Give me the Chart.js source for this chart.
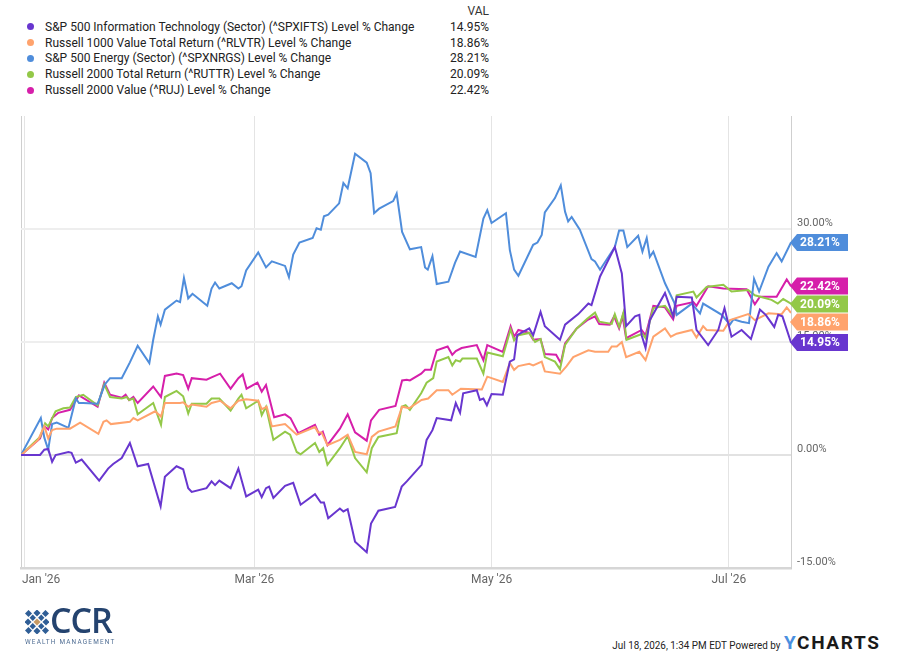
<!DOCTYPE html>
<html><head><meta charset="utf-8">
<script src="https://cdn.jsdelivr.net/npm/chart.js@4.4.1/dist/chart.umd.min.js"></script>
<style>
html,body{margin:0;padding:0;background:#fff;width:900px;height:665px;overflow:hidden;font-family:Roboto,'Noto Sans',sans-serif;}
#legend{position:absolute;left:0;top:0;width:520px;height:100px;}
.hdr{position:absolute;left:440px;width:49px;text-align:right;top:3px;font-size:12px;color:#333;line-height:16px;}
.row{position:absolute;left:0;width:520px;height:16px;font-size:12px;color:#222;line-height:16px;}
.dot{position:absolute;left:26.5px;top:4.5px;width:7px;height:7px;border-radius:50%;}
.name{position:absolute;left:45px;top:0;white-space:nowrap;}
.val{position:absolute;left:420px;top:0;width:69px;text-align:right;}
#wrap{position:absolute;left:0;top:100px;width:900px;height:500px;}
#stamp{position:absolute;right:120px;top:638px;font-size:11.5px;color:#222;white-space:nowrap;transform:scaleX(0.86);transform-origin:right center;line-height:14px;}
#ych{position:absolute;left:784px;top:633px;font-size:19px;font-weight:700;letter-spacing:1.6px;line-height:20px;color:#1a1a1a;white-space:nowrap;}
#ych .y{color:#4a8fe0;}
#ccr{position:absolute;left:25px;top:604px;width:95px;height:46px;}
#ccr .big{position:absolute;left:25px;top:-3px;font-family:'Open Sans',sans-serif;font-size:34px;font-weight:600;color:#24436f;line-height:38px;letter-spacing:-1px;}
#ccr .small{position:absolute;left:0;top:34px;font-size:6.4px;color:#4f6d93;letter-spacing:1.2px;white-space:nowrap;line-height:8px;}
#ccr svg{position:absolute;left:0;top:6px;}
</style></head>
<body>
<div id="legend"><div class="hdr">VAL</div></div>
<div id="wrap"><canvas id="c" width="900" height="500"></canvas></div>
<div id="ccr">
<svg width="24" height="24" viewBox="0 0 24 24">
<g fill="#2f5e96">
<rect x="1" y="1" width="5" height="5" transform="rotate(45 3.5 3.5)"/>
<rect x="18" y="1" width="5" height="5" transform="rotate(45 20.5 3.5)"/>
<rect x="1" y="18" width="5" height="5" transform="rotate(45 3.5 20.5)"/>
<rect x="18" y="18" width="5" height="5" transform="rotate(45 20.5 20.5)"/>
<rect x="5.5" y="5.5" width="4.5" height="4.5" transform="rotate(45 7.75 7.75)"/>
<rect x="14" y="5.5" width="4.5" height="4.5" transform="rotate(45 16.25 7.75)"/>
<rect x="5.5" y="14" width="4.5" height="4.5" transform="rotate(45 7.75 16.25)"/>
<rect x="14" y="14" width="4.5" height="4.5" transform="rotate(45 16.25 16.25)"/>
<rect x="9.5" y="0.5" width="5" height="5" transform="rotate(45 12 3)"/>
<rect x="9.5" y="18.5" width="5" height="5" transform="rotate(45 12 21)"/>
<rect x="0.5" y="9.5" width="5" height="5" transform="rotate(45 3 12)"/>
<rect x="18.5" y="9.5" width="5" height="5" transform="rotate(45 21 12)"/>
</g>
<rect x="9.5" y="9.5" width="5" height="5" fill="#c79a63" transform="rotate(45 12 12)"/>
</svg>
<div class="big">CCR</div>
<div class="small">WEALTH MANAGEMENT</div>
</div>
<div id="stamp">Jul 18, 2026, 1:34 PM EDT Powered by</div>
<div id="ych"><span class="y">Y</span>CHARTS</div>
<script>
// ---- data (x = calendar days since Dec 31, 2025; y = level % change) ----
const seriesNames = [
  "S&P 500 Information Technology (Sector) (^SPXIFTS) Level % Change",
  "Russell 1000 Value Total Return (^RLVTR) Level % Change",
  "S&P 500 Energy (Sector) (^SPXNRGS) Level % Change",
  "Russell 2000 Total Return (^RUTTR) Level % Change",
  "Russell 2000 Value (^RUJ) Level % Change"
];
const lastVals = [14.95, 18.86, 28.21, 20.09, 22.42];

const itDays = [0,4.9,6.0,7.0,8.0,8.9,12.2,13.0,14.1,15.6,20.1,22.4,23.7,25.9,28.0,30.0,32.7,35.9,37.0,40.0,41.7,43.0,43.9,47.7,49.0,49.9,51.0,53.9,55.9,57.9,61.0,61.9,63.0,63.8,64.9,67.9,70.0,71.9,75.6,77.1,77.9,79.0,82.0,82.9,84.0,85.9,88.9,90.0,91.9,96.2,97.9,99.2,103.0,104.3,105.8,106.9,110.6,111.8,112.9,113.7,117.2,118.0,118.9,119.8,121.0,123.9,125.7,126.8,127.6,130.7,131.7,133.6,134.7,138.6,139.9,143.3,145.9,146.7,148.9,152.7,154.5,155.6,157.9,159.0,159.6,160.6,161.7,165.6,167.7,168.6,172.5,173.7,176.7,179.3,180.9,182.7,185.3,187.7,190.0,191.5,193.7,194.7,195.8,198];
const itVals = [0,0,0.7,0.8,-0.9,0,0.4,0.3,-1.0,-0.6,-3.4,-1.8,-1.2,-0.4,1.6,-1.5,-1.2,-6.8,-2.9,-1.5,-1.9,-4.4,-4.9,-4.4,-3.5,-4.0,-3.4,-4.4,-1.8,-5.5,-4.6,-5.6,-4.4,-4.2,-5.7,-4.1,-3.7,-6.6,-5.2,-6.3,-6.3,-8.4,-7.1,-7.5,-7.2,-11.5,-12.9,-9.1,-7.4,-6.9,-4.2,-3.5,-1.3,2.0,3.3,4.9,4.6,6.9,5.6,8.2,8.6,7.3,7.5,6.6,8.1,8.0,12.4,12.7,15.9,16.8,15.9,19.0,17.1,15.3,17.3,18.7,20.1,19.9,23.7,27.6,24.1,17.1,18.4,18.6,15.9,14.2,17.9,21.5,18.4,21.0,20.9,16.6,14.6,16.6,19.5,15.7,16.6,15.4,19.3,18.6,17.0,18.6,18.4,14.95];

const rlvDays = [0,4.4,6.0,7.0,8.0,9.2,12.6,15.2,19.9,21.2,22.0,23.1,28.0,28.9,30.0,34.5,36.0,37.0,40.9,41.7,43.0,43.9,47.7,49.0,51.2,53.9,55.9,57.9,61.0,61.9,63.2,64.5,67.9,70.9,75.6,76.4,77.3,78.8,82.0,84.0,85.9,88.9,90.2,91.9,96.3,98.0,99.8,103.0,104.7,106.9,109.9,110.9,113.1,118.5,119.9,123.9,125.7,126.8,127.9,130.7,131.7,133.9,134.7,138.6,140.3,142.0,145.9,147.6,151.0,151.9,153.2,154.5,155.6,159.0,160.6,162.6,165.6,167.1,168.6,172.5,173.7,175.4,176.3,180.6,182.3,187.0,188.7,192.2,195.6,196.9,198];
const rlvVals = [0,2.0,3.8,2.2,3.3,3.5,3.5,4.3,2.8,4.4,4.6,4.1,4.4,4.9,4.6,5.8,5.1,6.9,6.9,7.0,6.4,6.7,6.4,6.9,7.2,6.2,7.2,7.4,7.2,6.1,6.4,3.8,4.1,2.7,3.7,3.0,3.0,1.3,2.0,2.7,0.4,0.1,2.4,3.1,3.8,6.4,6.2,7.3,7.5,8.6,8.6,8.0,8.8,8.7,10.4,9.7,12.2,11.3,11.8,12.1,11.9,12.4,11.1,10.8,11.8,13.0,13.9,13.7,13.7,14.4,14.4,15.0,13.0,13.7,12.6,15.7,16.8,15.7,16.1,16.6,15.6,17.1,16.6,16.5,17.9,18.7,17.9,18.8,18.7,19.6,18.86];

const enDays = [0,5.1,6.0,7.0,8.0,9.2,12.2,14.1,14.9,16.0,19.7,21.6,22.9,25.9,28.0,30.0,33.0,34.0,35.2,35.9,37.0,40.0,40.9,41.9,43.0,44.1,47.9,49.0,49.9,51.0,54.2,55.9,56.7,57.9,61.0,63.0,64.5,67.9,68.9,70.0,71.6,75.0,76.0,77.1,77.9,79.0,81.8,82.9,84.0,85.9,88.9,89.9,90.8,92.1,95.7,96.6,98.0,100.0,102.9,103.9,104.6,105.8,106.9,109.9,111.6,112.9,116.9,118.9,119.9,121.0,124.7,125.7,126.8,127.9,131.7,132.8,133.9,134.7,137.3,138.8,139.9,140.7,141.6,143.7,146.7,147.6,148.9,152.7,153.8,154.9,155.9,158.7,159.8,160.9,161.7,162.6,165.6,168.0,168.6,172.5,174.6,175.4,180.2,182.3,183.2,185.3,187.2,188.5,189.8,192.2,194.3,195.6,198];
const enVals = [0,4.9,2.3,0.7,4.1,4.3,3.6,7.5,6.9,6.9,6.8,9.4,10.2,10.2,12.3,14.5,12.2,15.3,18.4,17.3,19.3,20.5,20.3,23.5,20.8,21.4,19.8,22.1,22.9,22.1,22.8,22.1,22.4,24.5,26.9,24.9,25.7,25.1,23.6,26.6,28.2,28.8,30.1,29.9,31.7,31.9,33.4,36.1,35.4,40.0,38.8,37.4,32.1,32.7,33.7,34.7,29.6,27.3,27.6,24.9,24.6,26.4,22.7,23.0,25.5,27.0,26.3,31.4,32.5,30.8,32.1,27.2,24.6,23.8,27.9,28.2,29.2,32.2,34.1,35.8,32.3,31.0,31.6,29.9,26.0,25.7,24.6,27.6,29.8,29.8,27.6,29.1,27.0,28.8,26.3,27.0,22.8,20.2,18.6,20.1,18.8,20.1,18.6,17.3,18.0,17.7,17.5,23.4,21.7,25.0,26.8,25.7,28.21];

const rutDays = [0,4.9,6.2,7.0,8.9,10.9,12.6,14.1,16.0,19.7,21.4,22.9,25.9,27.2,27.8,28.9,30.0,34.0,36.0,37.0,40.0,41.7,43.0,43.9,47.7,49.0,51.0,53.9,55.9,56.7,57.9,61.0,61.9,63.0,64.9,67.9,69.2,70.9,71.9,75.6,76.7,77.7,78.8,82.0,84.0,85.9,88.9,90.2,91.9,96.6,97.9,98.9,100.0,102.9,104.3,106.0,106.9,109.9,110.9,111.8,112.9,113.5,117.2,118.9,119.9,123.9,125.9,126.8,127.9,130.7,132.2,133.6,134.7,137.3,138.6,139.9,142.9,145.6,147.6,148.7,151.9,152.7,153.8,154.9,155.7,159.8,160.6,162.6,165.6,167.7,168.6,172.9,173.7,176.3,180.6,182.7,187.0,188.7,193.0,194.6,196.0,198];
const rutVals = [0,2.4,4.2,3.8,5.8,6.2,6.3,7.7,8.0,6.6,9.4,7.7,7.5,7.7,7.3,7.5,5.4,6.9,4.0,7.7,8.5,7.8,5.5,6.8,6.8,7.5,7.5,5.9,7.5,8.0,6.2,7.2,5.3,6.4,2.0,3.1,2.7,0.4,0.1,1.6,0.4,0.9,-1.3,0.9,2.5,-0.4,-2.3,0.9,2.4,2.9,6.4,6.6,6.0,8.2,9.6,10.2,12.4,13.0,11.9,12.6,12.4,12.8,12.8,10.8,13.6,13.1,16.7,15.2,15.9,16.2,15.0,15.4,13.0,12.4,11.4,14.6,16.8,18.1,18.9,17.7,17.4,18.7,17.0,18.9,15.3,16.1,15.5,19.5,19.8,18.4,21.2,21.7,20.9,22.3,22.6,21.7,21.9,21.2,20.6,20.1,20.7,20.09];

const rujDays = [0,4.9,6.0,7.0,8.0,9.6,12.6,14.9,19.7,21.4,22.9,25.9,26.9,27.8,28.9,30.0,34.0,36.0,37.0,40.0,41.7,43.0,43.9,47.7,49.0,51.2,53.9,55.9,57.0,58.0,60.8,61.9,63.0,65.1,67.9,69.3,71.3,75.6,76.7,77.6,78.8,82.0,84.0,85.9,88.9,90.0,92.1,96.3,98.0,99.2,100.0,102.9,103.9,105.4,106.9,109.7,110.9,111.8,113.3,117.2,118.9,119.9,123.9,125.9,126.8,127.9,130.7,131.7,133.6,134.7,137.6,138.8,139.9,142.9,145.6,147.6,148.7,151.4,152.5,153.8,154.7,155.6,159.6,160.6,162.6,165.6,167.7,168.6,172.9,173.7,176.7,180.6,186.6,188.7,190.0,194.3,196.9,198];
const rujVals = [0,2.2,3.8,3.4,4.9,5.6,6.0,7.9,6.4,9.6,8.0,7.6,8.0,7.3,7.7,6.9,9.1,7.7,10.5,10.8,10.6,8.8,10.2,10.0,10.3,10.8,8.8,10.2,10.7,8.8,9.6,8.4,9.3,5.0,5.4,4.9,2.9,4.0,2.7,3.1,1.3,3.5,5.4,3.0,1.9,4.6,6.0,6.5,9.9,10.0,9.9,10.8,11.3,11.3,13.9,14.4,13.3,13.8,14.2,14.6,12.6,14.6,13.7,17.1,15.7,16.6,16.2,15.3,15.4,13.4,13.3,12.2,14.8,16.8,17.9,18.4,17.4,17.3,18.4,16.8,18.4,15.5,16.6,15.9,19.8,19.6,18.0,19.8,20.3,19.8,22.4,22.1,22.0,20.0,21.0,21.0,23.3,22.42];

const monthTicks = [1, 60, 121, 182];
const monthLabels = ["Jan '26", "Mar '26", "May '26", "Jul '26"];
const yTicks = [-15, 0, 15, 30, 45];

// ---- styles ----
const colors = ['#6836CF', '#FFA36D', '#4F8DDB', '#93C848', '#D61FAA'];
const allDays = [itDays, rlvDays, enDays, rutDays, rujDays];
const allVals = [itVals, rlvVals, enVals, rutVals, rujVals];

// legend
const lg = document.getElementById('legend');
const rowTops = [18.7, 34.7, 50.3, 66, 82];
seriesNames.forEach((n, i) => {
  const r = document.createElement('div');
  r.className = 'row'; r.style.top = rowTops[i] + 'px';
  r.innerHTML = '<div class="dot" style="background:' + colors[i] + '"></div><div class="name"></div><div class="val"></div>';
  r.querySelector('.name').textContent = n;
  r.querySelector('.val').textContent = lastVals[i].toFixed(2) + '%';
  lg.appendChild(r);
});

const overlay = {
  id: 'overlay',
  afterDraw(chart) {
    const {ctx, chartArea, scales: {x, y}} = chart;
    ctx.save();
    ctx.font = '12px Roboto';
    ctx.fillStyle = '#666';
    ctx.textBaseline = 'middle';
    monthTicks.forEach((d, i) => {
      const px = x.getPixelForValue(d);
      ctx.textAlign = i === 0 ? 'left' : 'center';
      ctx.fillText(monthLabels[i], i === 0 ? px - 3 : px, chartArea.bottom + 12);
    });
    const items = lastVals.map((v, i) => ({v, c: colors[i], y: y.getPixelForValue(v)})).sort((a, b) => a.y - b.y);
    for (let i = 1; i < items.length; i++) if (items[i].y < items[i - 1].y + 18) items[i].y = items[i - 1].y + 18;
    const tip = chartArea.right - 1, bx = tip + 7, ex = tip + 58, h = 8.5;
    items.forEach(it => {
      ctx.beginPath();
      ctx.moveTo(tip, it.y); ctx.lineTo(bx, it.y - h); ctx.lineTo(ex, it.y - h);
      ctx.lineTo(ex, it.y + h); ctx.lineTo(bx, it.y + h); ctx.closePath();
      ctx.fillStyle = it.c; ctx.fill();
      ctx.fillStyle = '#fff'; ctx.font = 'bold 12px Roboto'; ctx.textAlign = 'left';
      ctx.fillText(it.v.toFixed(2) + '%', bx + 3, it.y + 0.5);
    });
    ctx.restore();
  }
};

new Chart(document.getElementById('c'), {
  type: 'line',
  data: {
    datasets: seriesNames.map((n, i) => ({
      label: n,
      data: allDays[i].map((d, k) => ({x: d, y: allVals[i][k]})),
      borderColor: colors[i], backgroundColor: colors[i],
      borderWidth: 2, pointRadius: 0, tension: 0, fill: false
    }))
  },
  options: {
    responsive: false, animation: false, devicePixelRatio: 1,
    layout: {padding: {left: 21, top: 16, right: 0, bottom: 0}},
    plugins: {legend: {display: false}, tooltip: {enabled: false}},
    scales: {
      x: {
        type: 'linear', min: 0, max: 198,
        afterBuildTicks: s => { s.ticks = [0].concat(monthTicks).map(v => ({value: v})); },
        afterFit: s => { s.height = 32; },
        ticks: {display: false},
        grid: {drawTicks: false, lineWidth: 1, color: c => (c.tick && c.tick.value === 0) ? '#cfcfcf' : '#e4e4e4'},
        border: {display: true, color: '#d6d6d6', width: 2.5}
      },
      y: {
        position: 'right', min: -15, max: 45,
        afterBuildTicks: s => { s.ticks = yTicks.map(v => ({value: v})); },
        afterFit: s => { s.width = 109; },
        ticks: {
          callback: v => v === 45 ? '' : v.toFixed(2) + '%',
          color: '#666', font: {family: 'Roboto', size: 11}, padding: 6, labelOffset: -6
        },
        grid: {drawTicks: false, lineWidth: 2, color: c => (c.tick && c.tick.value === 45) ? 'rgba(0,0,0,0)' : (c.tick && c.tick.value === 0 ? '#e2e2e2' : '#eeeeee')},
        border: {display: true, color: '#cfcfcf', width: 1}
      }
    }
  },
  plugins: [overlay]
});
</script>
</body></html>
